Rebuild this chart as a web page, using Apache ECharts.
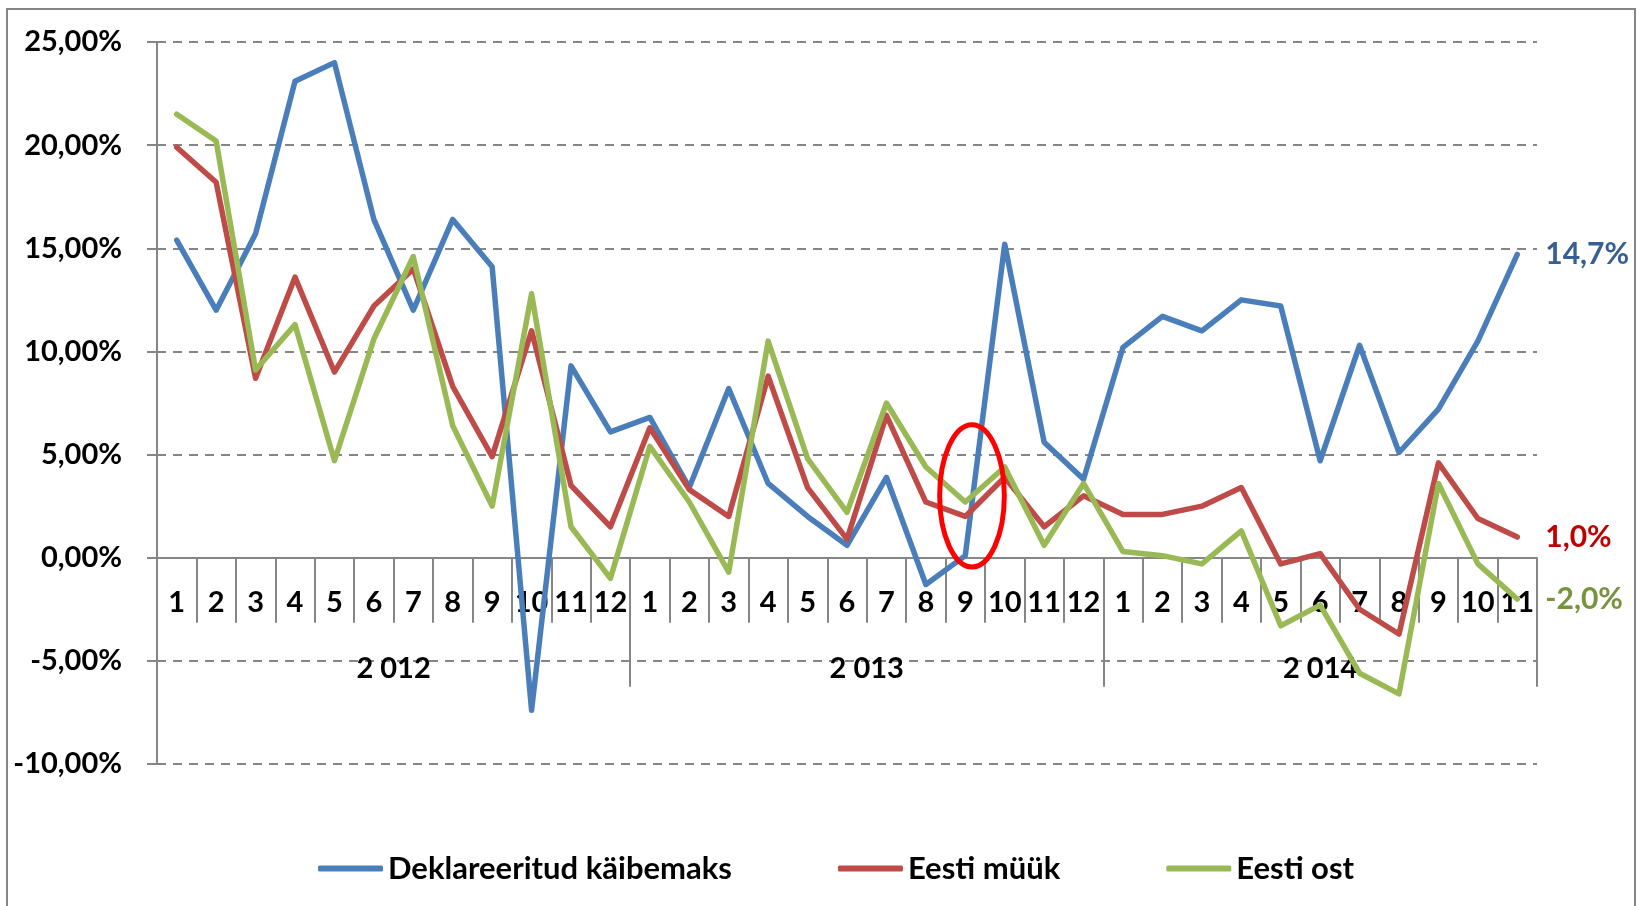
<!DOCTYPE html>
<html>
<head>
<meta charset="utf-8">
<script src="https://cdn.jsdelivr.net/npm/echarts@6/dist/echarts.min.js"></script>
<style>
  html,body{margin:0;padding:0;background:#fff}
  #chart{width:1637px;height:906px}
</style>
</head>
<body>
<div id="chart"></div>
<script>
// kuud (35 kuud, 2012-01 .. 2014-11)
var months = ['1','2','3','4','5','6','7','8','9','10','11','12',
              '1','2','3','4','5','6','7','8','9','10','11','12',
              '1','2','3','4','5','6','7','8','9','10','11']
var years = ['2 012','2 013','2 014']
var yearSpans = [12,12,11]

var kaibemaks = [15.4,12.0,15.7,23.1,24.0,16.4,12.0,16.4,14.1,-7.4,9.3,6.1,
                 6.8,3.4,8.2,3.6,2.0,0.6,3.9,-1.3,0.1,15.2,5.6,3.8,
                 10.2,11.7,11.0,12.5,12.2,4.7,10.3,5.1,7.2,10.5,14.7]
var muuk = [19.9,18.2,8.7,13.6,9.0,12.2,14.0,8.3,4.9,11.0,3.5,1.5,
            6.3,3.3,2.0,8.8,3.4,0.9,6.9,2.7,2.0,3.9,1.5,3.0,
            2.1,2.1,2.5,3.4,-0.3,0.2,-2.5,-3.7,4.6,1.9,1.0]
var ost = [21.5,20.2,9.1,11.3,4.7,10.6,14.6,6.4,2.5,12.8,1.5,-1.0,
           5.4,2.7,-0.7,10.5,4.8,2.2,7.5,4.4,2.7,4.4,0.6,3.6,
           0.3,0.1,-0.3,1.3,-3.3,-2.3,-5.6,-6.6,3.6,-0.3,-2.0]

var seriesNames = ['Deklareeritud käibemaks','Eesti müük','Eesti ost']
var lineColors = ['#4a7ebb','#be4b48','#98b954']
var endColors = ['#376092','#c00000','#77933c']

var yMin = -10, yMax = 25, yStep = 5

var FONT = 'Lato'
var GRAY = '#868686'
var GRID = {left: 157, right: 100, top: 42, bottom: 142}

// aastate piirid ja keskkohad
var yearBounds = [0], yearMids = []
yearSpans.forEach((n)=>{
  var start = yearBounds[yearBounds.length-1]
  yearMids.push(start + n/2)
  yearBounds.push(start + n)
})

// x-telg nulljoonele (onZero asemel nihkega)
var gridH = 906 - GRID.top - GRID.bottom
var zeroShift = -gridH * (0 - yMin) / (yMax - yMin)

var pct = (v, d)=> v.toFixed(d).replace('.', ',') + '%'

var chart = echarts.init(document.getElementById('chart'))

var mkSeries = (name, data, i)=>({
  name: name,
  type: 'line',
  data: data,
  symbol: 'none',
  lineStyle: {color: lineColors[i], width: 5.5, join: 'round', cap: 'round'},
  itemStyle: {color: lineColors[i]},
  endLabel: {
    show: true,
    distance: 28,
    color: endColors[i],
    fontFamily: FONT,
    fontWeight: 'bold',
    fontSize: 30,
    formatter: (p)=> pct(p.value, 1)
  }
})

var labelFont = {color: '#000', fontFamily: FONT, fontWeight: 'bold', fontSize: 29, lineHeight: 29}

var option = {
  animation: false,
  grid: Object.assign({containLabel: false, outerBoundsMode: 'none'}, GRID),
  legend: {
    left: 313,
    top: 848,
    icon: 'roundRect',
    itemWidth: 65,
    itemHeight: 6,
    itemGap: 106,
    textStyle: {color: '#000', fontFamily: FONT, fontWeight: 'bold', fontSize: 31, lineHeight: 30},
    data: seriesNames
  },
  xAxis: [
    {
      type: 'category',
      data: months,
      position: 'bottom',
      offset: zeroShift,
      axisLine: {onZero: false, lineStyle: {color: GRAY, width: 2}},
      axisTick: {show: true, length: 65, lineStyle: {color: GRAY, width: 2}},
      axisLabel: Object.assign({margin: 30, interval: 0}, labelFont),
      splitLine: {show: false}
    },
    {
      type: 'value',
      min: 0,
      max: months.length,
      position: 'bottom',
      offset: zeroShift,
      axisLine: {show: false, onZero: false},
      axisTick: {show: true, customValues: yearBounds, length: 129, lineStyle: {color: GRAY, width: 2}},
      axisLabel: Object.assign({
        show: true,
        customValues: yearMids,
        margin: 96,
        formatter: (v)=> years[yearMids.indexOf(v)]
      }, labelFont),
      splitLine: {show: false}
    }
  ],
  yAxis: {
    type: 'value',
    min: yMin,
    max: yMax,
    interval: yStep,
    axisLine: {show: true, lineStyle: {color: GRAY, width: 2}},
    axisTick: {show: true, length: 10, lineStyle: {color: GRAY, width: 2}},
    axisLabel: Object.assign({}, labelFont, {
      margin: 35,
      lineHeight: null,
      formatter: (v)=> pct(v, 2)
    }),
    splitLine: {lineStyle: {color: GRAY, width: 2, type: [9, 7]}}
  },
  series: [
    mkSeries(seriesNames[0], kaibemaks, 0),
    mkSeries(seriesNames[1], muuk, 1),
    mkSeries(seriesNames[2], ost, 2)
  ]
}

chart.setOption(option)

// raam ja punane ovaal (2013 sept ümber)
var c0 = chart.convertToPixel({xAxisIndex: 0, yAxisIndex: 0}, [20, 3])
var c1 = chart.convertToPixel({xAxisIndex: 0, yAxisIndex: 0}, [21, 3 + 3.45])
var step = c1[0] - c0[0]
chart.setOption({
  graphic: [
    {
      type: 'rect',
      shape: {x: 7, y: 9, width: 1628, height: 930},
      style: {fill: 'none', stroke: GRAY, lineWidth: 2},
      silent: true
    },
    {
      type: 'ellipse',
      shape: {cx: c0[0] + step*0.17, cy: c0[1], rx: step*0.82, ry: c0[1] - c1[1]},
      style: {fill: 'none', stroke: '#ff0000', lineWidth: 5},
      z: 100
    }
  ]
})
</script>
</body>
</html>
